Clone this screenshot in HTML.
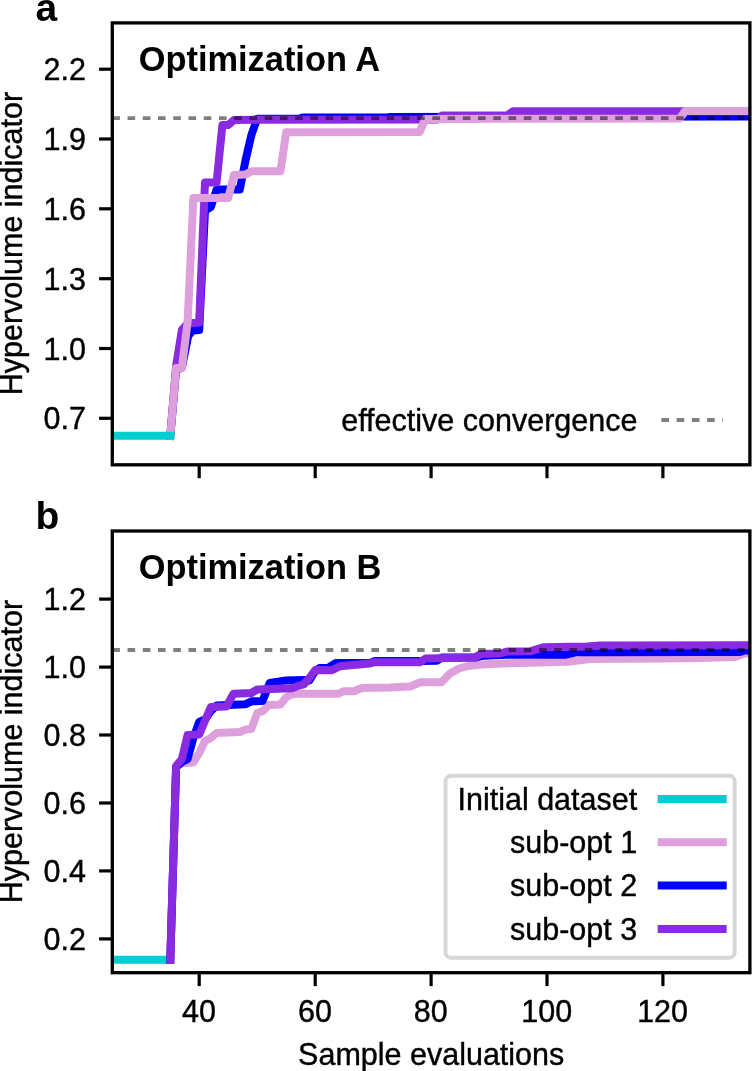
<!DOCTYPE html>
<html><head><meta charset="utf-8"><style>
html,body{margin:0;padding:0;background:#fff;}
svg{display:block;}
text{-webkit-font-smoothing:antialiased;}

.t{font-family:"Liberation Sans",sans-serif;font-size:30.5px;fill:#000;stroke:#000;stroke-width:0.4px;}
.pl{font-family:"Liberation Sans",sans-serif;font-size:39px;font-weight:bold;fill:#000;}
.ti{font-family:"Liberation Sans",sans-serif;font-size:34.4px;font-weight:bold;fill:#000;}
</style></head><body>
<svg width="752" height="1071" viewBox="0 0 752 1071" style="will-change:transform">
<rect width="752" height="1071" fill="#fff"/>
<clipPath id="ca"><rect x="112.3" y="22.9" width="637.6" height="441.90000000000003"/></clipPath>
<g clip-path="url(#ca)">
<polyline points="170.3,435.8 176.1,370.0 181.9,367.5 188.2,336.0 192.5,330.5 199.2,330.0 205.0,210.5 210.8,207.0 216.6,189.5 239.8,189.5 245.6,160.0 251.4,135.0 257.2,118.7 299.0,118.7 303.0,117.4 386.0,117.6 390.0,117.0 760.0,116.5" fill="none" stroke="#0000ff" stroke-width="8" stroke-linejoin="round" stroke-linecap="square"/>
<polyline points="170.3,435.8 176.1,366.0 181.9,330.0 187.6,323.5 199.2,322.5 205.0,182.4 216.6,182.4 222.4,125.0 228.2,125.0 234.0,119.9 437.0,119.6 442.0,115.6 507.0,115.6 513.0,111.2 760.0,111.2" fill="none" stroke="#8a2be2" stroke-width="8" stroke-linejoin="round" stroke-linecap="square"/>
<polyline points="170.3,435.8 176.1,368.0 181.9,368.0 187.6,322.0 193.4,198.0 228.2,198.0 234.0,175.0 245.6,174.5 251.4,171.2 280.4,171.2 286.2,132.3 419.5,132.0 425.3,119.0 679.5,118.5 685.3,111.0 760.0,111.0" fill="none" stroke="#dda0dd" stroke-width="8" stroke-linejoin="round" stroke-linecap="square"/>
<polyline points="100.0,435.8 170.3,435.8" fill="none" stroke="#00ced1" stroke-width="8" stroke-linejoin="round" stroke-linecap="square"/>
<line x1="112.3" y1="118.1" x2="754.9" y2="118.1" stroke="#000" stroke-opacity="0.5" stroke-width="3.8" stroke-dasharray="7.62 7.62"/>
</g>
<rect x="112.3" y="22.9" width="637.6" height="441.90000000000003" fill="none" stroke="#000" stroke-width="3.3" stroke-linejoin="miter"/>
<clipPath id="cb"><rect x="112.3" y="531.0" width="637.6" height="441.70000000000005"/></clipPath>
<g clip-path="url(#cb)">
<polyline points="100.0,959.8 170.3,959.8" fill="none" stroke="#00ced1" stroke-width="8" stroke-linejoin="round" stroke-linecap="square"/>
<polyline points="170.3,959.8 176.1,767.0 181.9,763.2 193.4,762.5 199.2,753.0 205.0,741.0 210.8,738.0 216.6,733.0 239.8,732.0 245.6,729.4 251.4,729.0 257.2,713.0 263.0,711.0 268.8,705.0 280.4,704.5 286.2,697.2 292.0,694.2 297.8,693.7 338.0,693.8 344.0,691.2 354.0,691.2 361.8,688.0 389.7,687.5 410.5,686.5 420.5,682.2 441.5,682.2 450.0,673.5 459.0,668.5 468.0,666.0 482.0,664.5 508.6,663.2 568.4,661.8 590.0,659.0 660.0,658.5 700.0,658.0 735.0,657.1 745.0,653.5 760.0,653.5" fill="none" stroke="#dda0dd" stroke-width="8" stroke-linejoin="round" stroke-linecap="square"/>
<polyline points="170.3,959.8 176.1,767.0 181.9,762.0 187.6,759.0 193.4,738.0 199.2,721.9 205.0,719.5 210.8,711.0 216.6,705.6 245.2,704.3 251.4,701.3 262.5,701.0 269.7,683.0 284.6,680.6 304.0,680.0 309.4,680.5 315.2,671.0 319.5,668.0 328.0,668.0 336.0,663.0 370.0,663.0 375.0,661.0 420.0,661.0 437.0,660.7 442.0,657.5 476.0,657.5 481.0,656.1 493.0,655.2 507.0,654.7 566.0,654.7 576.0,652.3 600.0,652.3 700.0,651.9 740.0,651.9 745.0,650.4 760.0,650.4" fill="none" stroke="#0000ff" stroke-width="8" stroke-linejoin="round" stroke-linecap="square"/>
<polyline points="170.3,959.8 176.1,766.0 181.9,759.0 187.6,735.0 199.2,734.5 210.8,707.0 226.5,706.5 233.5,693.7 251.4,693.0 257.2,689.5 292.0,688.3 297.8,686.0 303.6,684.5 309.4,678.0 315.2,670.0 332.0,670.3 339.9,666.3 369.8,663.4 373.8,662.3 419.7,662.3 425.5,658.5 475.0,657.5 480.8,654.0 500.0,653.5 507.0,651.5 530.0,651.3 544.0,647.2 587.0,646.5 600.0,645.5 760.0,645.3" fill="none" stroke="#8a2be2" stroke-width="8" stroke-linejoin="round" stroke-linecap="square"/>
<line x1="112.3" y1="650.0" x2="754.9" y2="650.0" stroke="#000" stroke-opacity="0.5" stroke-width="3.8" stroke-dasharray="7.62 7.62"/>
</g>
<rect x="112.3" y="531.0" width="637.6" height="441.70000000000005" fill="none" stroke="#000" stroke-width="3.3" stroke-linejoin="miter"/>
<line x1="199.2" y1="464.8" x2="199.2" y2="478.2" stroke="#000" stroke-width="3.2"/>
<line x1="315.2" y1="464.8" x2="315.2" y2="478.2" stroke="#000" stroke-width="3.2"/>
<line x1="431.1" y1="464.8" x2="431.1" y2="478.2" stroke="#000" stroke-width="3.2"/>
<line x1="547.0" y1="464.8" x2="547.0" y2="478.2" stroke="#000" stroke-width="3.2"/>
<line x1="662.9" y1="464.8" x2="662.9" y2="478.2" stroke="#000" stroke-width="3.2"/>
<line x1="199.2" y1="972.7" x2="199.2" y2="986.1" stroke="#000" stroke-width="3.2"/>
<line x1="315.2" y1="972.7" x2="315.2" y2="986.1" stroke="#000" stroke-width="3.2"/>
<line x1="431.1" y1="972.7" x2="431.1" y2="986.1" stroke="#000" stroke-width="3.2"/>
<line x1="547.0" y1="972.7" x2="547.0" y2="986.1" stroke="#000" stroke-width="3.2"/>
<line x1="662.9" y1="972.7" x2="662.9" y2="986.1" stroke="#000" stroke-width="3.2"/>
<line x1="112.3" y1="69.2" x2="99.1" y2="69.2" stroke="#000" stroke-width="3.2"/>
<text x="86" y="80.3" text-anchor="end" class="t">2.2</text>
<line x1="112.3" y1="139.0" x2="99.1" y2="139.0" stroke="#000" stroke-width="3.2"/>
<text x="86" y="150.1" text-anchor="end" class="t">1.9</text>
<line x1="112.3" y1="208.8" x2="99.1" y2="208.8" stroke="#000" stroke-width="3.2"/>
<text x="86" y="219.9" text-anchor="end" class="t">1.6</text>
<line x1="112.3" y1="278.7" x2="99.1" y2="278.7" stroke="#000" stroke-width="3.2"/>
<text x="86" y="289.8" text-anchor="end" class="t">1.3</text>
<line x1="112.3" y1="348.5" x2="99.1" y2="348.5" stroke="#000" stroke-width="3.2"/>
<text x="86" y="359.6" text-anchor="end" class="t">1.0</text>
<line x1="112.3" y1="418.3" x2="99.1" y2="418.3" stroke="#000" stroke-width="3.2"/>
<text x="86" y="429.4" text-anchor="end" class="t">0.7</text>
<line x1="112.3" y1="599.1" x2="99.1" y2="599.1" stroke="#000" stroke-width="3.2"/>
<text x="86" y="610.2" text-anchor="end" class="t">1.2</text>
<line x1="112.3" y1="667.1" x2="99.1" y2="667.1" stroke="#000" stroke-width="3.2"/>
<text x="86" y="678.2" text-anchor="end" class="t">1.0</text>
<line x1="112.3" y1="735.0" x2="99.1" y2="735.0" stroke="#000" stroke-width="3.2"/>
<text x="86" y="746.1" text-anchor="end" class="t">0.8</text>
<line x1="112.3" y1="803.0" x2="99.1" y2="803.0" stroke="#000" stroke-width="3.2"/>
<text x="86" y="814.1" text-anchor="end" class="t">0.6</text>
<line x1="112.3" y1="870.9" x2="99.1" y2="870.9" stroke="#000" stroke-width="3.2"/>
<text x="86" y="882.0" text-anchor="end" class="t">0.4</text>
<line x1="112.3" y1="938.9" x2="99.1" y2="938.9" stroke="#000" stroke-width="3.2"/>
<text x="86" y="950.0" text-anchor="end" class="t">0.2</text>
<text x="198.9" y="1022.0" text-anchor="middle" class="t">40</text>
<text x="314.9" y="1022.0" text-anchor="middle" class="t">60</text>
<text x="430.8" y="1022.0" text-anchor="middle" class="t">80</text>
<text x="546.7" y="1022.0" text-anchor="middle" class="t">100</text>
<text x="662.6" y="1022.0" text-anchor="middle" class="t">120</text>
<text x="21.9" y="243.6" transform="rotate(-90 21.9 243.6)" text-anchor="middle" class="t" dy="0">Hypervolume indicator</text>
<text x="21.9" y="751.6" transform="rotate(-90 21.9 751.6)" text-anchor="middle" class="t">Hypervolume indicator</text>
<text x="431.2" y="1065" text-anchor="middle" class="t">Sample evaluations</text>
<text x="35.5" y="21" class="pl">a</text>
<text x="35.5" y="529" class="pl">b</text>
<text x="138.7" y="70.8" class="ti">Optimization A</text>
<text x="138.7" y="578.8" class="ti">Optimization B</text>
<text x="637.4" y="430.9" text-anchor="end" class="t">effective convergence</text>
<line x1="661.4" y1="420" x2="723" y2="420" stroke="#000" stroke-opacity="0.5" stroke-width="3.8" stroke-dasharray="7.62 7.62"/>
<rect x="445.5" y="775.8" width="289.2" height="181.9" rx="5.5" ry="5.5" fill="#fff" fill-opacity="0.8" stroke="#d6d6d6" stroke-width="3.9"/>
<text x="637.2" y="809.6" text-anchor="end" class="t">Initial dataset</text>
<line x1="661.7" y1="799.0" x2="722.7" y2="799.0" stroke="#00ced1" stroke-width="8" stroke-linecap="square"/>
<text x="637.2" y="852.9" text-anchor="end" class="t">sub-opt 1</text>
<line x1="661.7" y1="842.3" x2="722.7" y2="842.3" stroke="#dda0dd" stroke-width="8" stroke-linecap="square"/>
<text x="637.2" y="896.2" text-anchor="end" class="t">sub-opt 2</text>
<line x1="661.7" y1="885.6" x2="722.7" y2="885.6" stroke="#0000ff" stroke-width="8" stroke-linecap="square"/>
<text x="637.2" y="939.5" text-anchor="end" class="t">sub-opt 3</text>
<line x1="661.7" y1="928.9" x2="722.7" y2="928.9" stroke="#8a2be2" stroke-width="8" stroke-linecap="square"/>
</svg>
</body></html>
